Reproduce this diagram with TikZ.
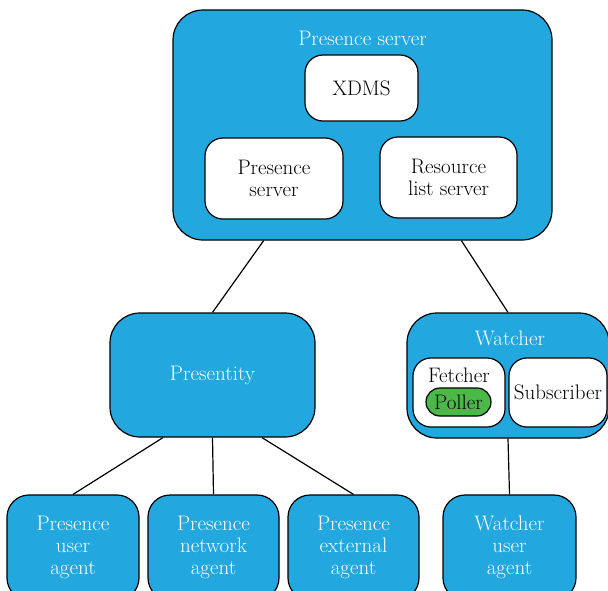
\documentclass[tikz,border=0pt]{standalone}
\usetikzlibrary{calc}
\definecolor{boxblue}{HTML}{22A7DF}
\definecolor{pollgreen}{HTML}{4CB848}
\begin{document}
\begin{tikzpicture}[x=1pt,y=-1pt,line width=1.2pt,
            every node/.style = {font=\fontsize{21}{22}\selectfont, align=center},
            bluebox/.style = {draw=black, fill=boxblue, text=white,
                        rounded corners=22pt, inner sep=0pt},
            whitebox/.style = {draw=black, fill=white, text=black,
                        rounded corners=18pt, inner sep=0pt}]
            \useasboundingbox (0,0) rectangle (608,590);
            % Presence server
            \node[bluebox,rounded corners=30pt,minimum width=379pt,minimum height=230pt] (server) at (362.5,125) {};
            \node[text=white] (serverlabel) at (362.5,38) {Presence server};
            \node[whitebox,minimum width=113pt,minimum height=66pt] (xdms) at (361.5,88) {XDMS};
            \node[whitebox,minimum width=138pt,minimum height=81pt] (pserver) at (274,178.5) {Presence\\server};
            \node[whitebox,minimum width=137pt,minimum height=81pt] (rls) at (448.5,177.5) {Resource\\list server};
            % Presentity
            \node[bluebox,rounded corners=30pt,minimum width=205pt,minimum height=124pt] (presentity) at (212.5,375) {Presentity};
            % Watcher
            \node[bluebox,rounded corners=30pt,minimum width=202pt,minimum height=125pt] (watcher) at (508,375.5) {};
            \node[text=white] (watcherlabel) at (510,338) {Watcher};
            \node[whitebox,minimum width=92pt,minimum height=69pt] (fetcher) at (459,392.5) {};
            \node (fetcherlabel) at (459,375) {Fetcher};
            \node[draw=black,fill=pollgreen,rounded corners=14pt,minimum width=65pt,minimum height=28pt,inner sep=0pt] (poller) at (458.5,402) {Poller};
            \node[whitebox,minimum width=98pt,minimum height=69pt] (subscriber) at (558,392.5) {Subscriber};
            % Agents
            \node[bluebox,minimum width=132pt,minimum height=105pt] (pua) at (73,547.5) {Presence\\user\\agent};
            \node[bluebox,minimum width=131pt,minimum height=105pt] (pna) at (213.5,547.5) {Presence\\network\\agent};
            \node[bluebox,minimum width=131pt,minimum height=105pt] (pea) at (353.5,547.5) {Presence\\external\\agent};
            \node[bluebox,minimum width=133pt,minimum height=105pt] (wua) at (509.5,547.5) {Watcher\\user\\agent};
            % Connectors
            \draw ($(server.south west)!0.24!(server.south east)$) -- (presentity.north);
            \draw ($(server.south west)!0.76!(server.south east)$) -- (watcher.north);
            \draw ($(presentity.south west)!0.26!(presentity.south east)$) -- (pua.north);
            \draw (presentity.south) -- (pna.north);
            \draw ($(presentity.south west)!0.74!(presentity.south east)$) -- (pea.north);
            \draw (watcher.south) -- (wua.north);
        \end{tikzpicture}
\end{document}
